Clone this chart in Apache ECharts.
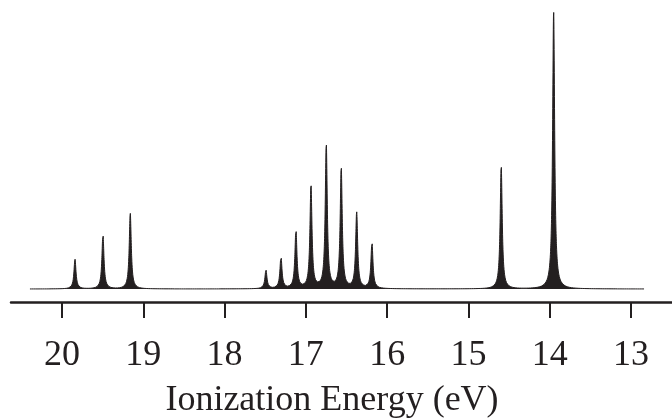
<!DOCTYPE html>
<html>
<head>
<meta charset="utf-8">
<script src="https://cdn.jsdelivr.net/npm/echarts@6/dist/echarts.min.js"></script>
<style>
  html, body { margin: 0; padding: 0; background: #fff; }
  #chart { width: 672px; height: 418px; }
</style>
</head>
<body>
<div id="chart"></div>
<script>
// peak positions (eV) and relative heights
var peakEnergy = [19.84, 19.496, 19.16, 17.491, 17.306, 17.122, 16.937, 16.749, 16.565, 16.375, 16.187, 14.597, 13.952];
var peakHeight = [0.107, 0.197, 0.273, 0.067, 0.115, 0.210, 0.372, 0.521, 0.436, 0.274, 0.166, 0.445, 1.0];
var peakWidth = 0.015;           // lorentzian half width (eV)
var spectrumRange = [12.84, 20.394];
var tickValues = [13, 14, 15, 16, 17, 18, 19, 20];

var ink = '#231f20';

// spectrum = sum of lorentzian lines at the peaks above
var spectrum = [];
for (var i = Math.round(spectrumRange[0] * 1000); i <= Math.round(spectrumRange[1] * 1000); i++) {
  var e = i / 1000;
  var y = 0;
  for (var k = 0; k < peakEnergy.length; k++) {
    var d = e - peakEnergy[k];
    y += peakHeight[k] * peakWidth * peakWidth / (d * d + peakWidth * peakWidth);
  }
  spectrum.push([e, y]);
}

var myChart = echarts.init(document.getElementById('chart'));
myChart.setOption({
  animation: false,
  grid: { left: 11, right: 0, top: 0, bottom: 116, outerBoundsMode: 'none' },
  xAxis: {
    type: 'value',
    inverse: true,
    min: 12.496,
    max: 20.627,
    splitLine: { show: false },
    axisLine: { onZero: false, lineStyle: { color: ink, width: 2.5 } },
    axisTick: {
      customValues: tickValues,
      length: 16,
      lineStyle: { color: ink, width: 2 }
    },
    axisLabel: {
      customValues: tickValues,
      margin: 36,
      color: ink,
      fontFamily: 'Liberation Serif',
      fontSize: 36
    },
    name: 'Ionization Energy (eV)',
    nameLocation: 'middle',
    nameGap: 81,
    nameTextStyle: {
      color: ink,
      fontFamily: 'Liberation Serif',
      fontSize: 36,
      padding: [0, 19, 0, 0]
    }
  },
  yAxis: {
    type: 'value',
    min: -0.0468,
    max: 1.0407,
    show: false
  },
  series: [{
    type: 'line',
    data: spectrum,
    showSymbol: false,
    symbol: 'none',
    sampling: null,
    lineStyle: { color: ink, width: 1 },
    areaStyle: { color: ink, opacity: 1 }
  }]
});
</script>
</body>
</html>
